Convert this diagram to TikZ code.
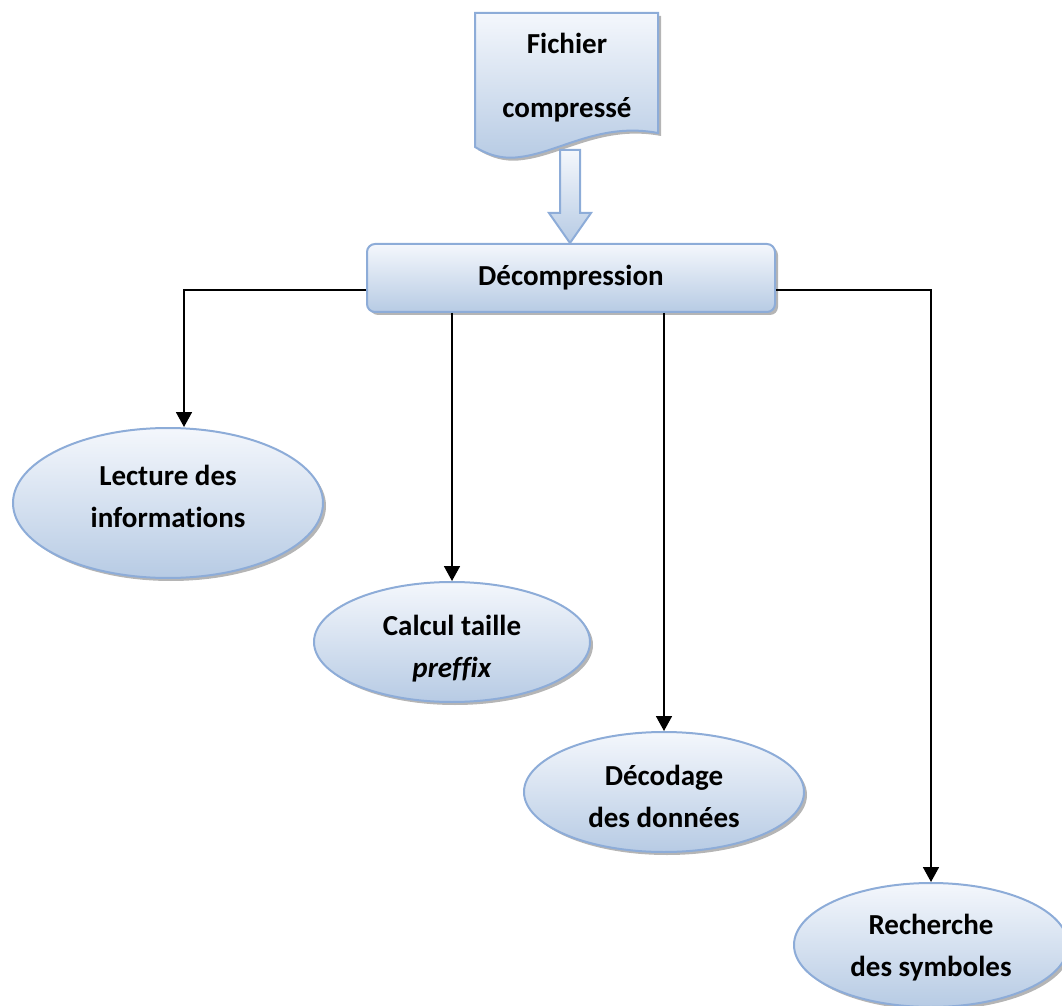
\documentclass[tikz,border=0pt]{standalone}
\usepackage{fontspec}
\setmainfont{Carlito}[Ligatures=CommonOff]
\usetikzlibrary{shapes.geometric,shadows,arrows.meta}
\definecolor{boxtop}{HTML}{F4F7FC}
\definecolor{boxbot}{HTML}{B7CBE4}
\definecolor{boxline}{HTML}{8DACD8}
\definecolor{boxshadow}{HTML}{9C9C9C}

\begin{document}
\begin{tikzpicture}[x=0.5pt,y=-0.5pt,
  blue fill/.style={draw=boxline, line width=1pt, top color=boxtop, bottom color=boxbot},
  blue box/.style={blue fill, drop shadow={shadow xshift=1.5pt, shadow yshift=-1.5pt, fill=boxshadow, opacity=0.75}},
  task/.style={blue box, ellipse, inner sep=0pt},
  tasktext/.style={align=center, font=\fontsize{14.5}{21}\selectfont\bfseries},
  link/.style={-{Triangle[width=8pt,length=7.5pt]}, line width=0.9pt}]
\useasboundingbox (0,0) rectangle (1062,1006);

\draw[blue box] (475,13) -- (658,13) -- (658,133)
  .. controls (600,122) and (560,152) .. (520,157)
  .. controls (500,160) and (485,153) .. (475,147) -- cycle;
\node[align=center, font=\fontsize{14.5}{32}\selectfont\bfseries] (file) at (567,78) {Fichier\\compressé};

\draw[blue fill] (560,150) -- (580,150) -- (580,213) -- (591,213) -- (570,243)
  -- (549,213) -- (560,213) -- cycle;

\node[blue box, rounded corners=4pt, minimum width=204pt, minimum height=34pt,
  font=\fontsize{14.5}{21}\selectfont\bfseries] (dec) at (571,278) {Décompression};

\node[task, minimum width=155pt, minimum height=75pt] (lect) at (168,503) {};
\node[task, minimum width=138pt, minimum height=60pt] (calc) at (452,642) {};
\node[task, minimum width=140pt, minimum height=60pt] (deco) at (664,792) {};
\node[task, minimum width=137pt, minimum height=62pt] (rech) at (931,945) {};

\node[tasktext] (lecttext) at (168,496) {Lecture des\\informations};
\node[tasktext] (calctext) at (452,649) {Calcul taille\\\textit{preffix}};
\node[tasktext] (decotext) at (664,796) {Décodage\\des données};
\node[tasktext] (rechtext) at (931,948) {Recherche\\des symboles};

\draw[link] ([yshift=-6pt]dec.west) -| ([xshift=8pt]lect.north);
\draw[link] ([yshift=-6pt]dec.east) -| (rech.north);
\draw[link] (dec.south -| calc.north) -- (calc.north);
\draw[link] (dec.south -| deco.north) -- (deco.north);
\end{tikzpicture}
\end{document}
